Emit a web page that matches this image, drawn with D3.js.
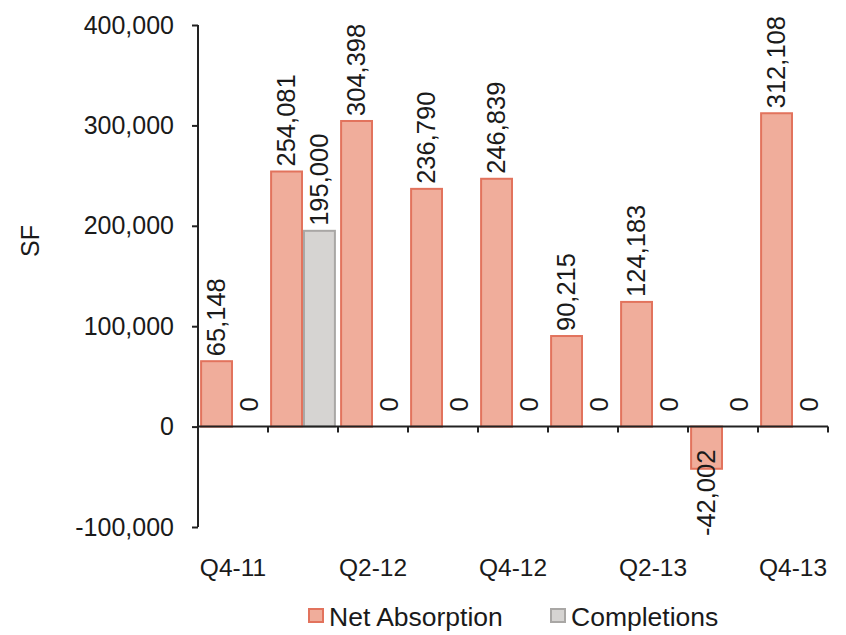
<!DOCTYPE html>
<html><head><meta charset="utf-8">
<script src="https://cdn.jsdelivr.net/npm/d3@7"></script>
<style>body{margin:0;background:#fff}text{font-family:"Liberation Sans",Arial,sans-serif;fill:#1a1a1a}</style>
</head><body><svg id="c" width="846" height="635"></svg>
<script>
const categories = ["Q4-11","Q1-12","Q2-12","Q3-12","Q4-12","Q1-13","Q2-13","Q3-13","Q4-13"];
const netAbsorption = [65148,254081,304398,236790,246839,90215,124183,-42002,312108];
const completions = [0,195000,0,0,0,0,0,0,0];
const yTicks = [-100000,0,100000,200000,300000,400000];
const seriesNames = ["Net Absorption","Completions"];

const svg = d3.select("#c");
const fmt = v => d3.format(",")(v).replace("\u2212","-");
const x0 = d3.scaleBand().domain(categories).range([198,828]).paddingInner(0.06).paddingOuter(0.03);
const x1 = d3.scaleBand().domain(seriesNames).range([0,x0.bandwidth()]);
const y = d3.scaleLinear().domain([-100000,400000]).range([527,25]);

const styles = {
  "Net Absorption": {fill:"#f0ad9b", stroke:"#e2735d"},
  "Completions": {fill:"#d6d4d2", stroke:"#a9a7a5"}
};

const data = categories.map((c,i)=>({c, vals:[{s:"Net Absorption",v:netAbsorption[i]},{s:"Completions",v:completions[i]}]}));

const g = svg.append("g");
const groups = g.selectAll("g.cat").data(data).join("g").attr("transform",d=>`translate(${x0(d.c)},0)`);
groups.selectAll("rect").data(d=>d.vals.filter(e=>e.v!==0)).join("rect")
  .attr("x",e=>x1(e.s)+1).attr("width",x1.bandwidth()-2)
  .attr("y",e=>Math.min(y(e.v),y(0))).attr("height",e=>Math.abs(y(e.v)-y(0)))
  .attr("fill",e=>styles[e.s].fill).attr("stroke",e=>styles[e.s].stroke).attr("stroke-width",2);

groups.selectAll("text.lbl").data(d=>d.vals).join("text").attr("class","lbl")
  .attr("transform",e=>{
    const cx = x1(e.s)+x1.bandwidth()/2;
    let yy;
    if(e.v>0) yy = y(e.v)-5;
    else if(e.v===0) yy = y(0)-15;
    else yy = y(0)+23;
    return `translate(${cx},${yy}) rotate(-90)`;
  })
  .attr("text-anchor",e=>e.v<0?"end":"start")
  .attr("dy","0.35em").style("font-size","25.5px")
  .text(e=>fmt(e.v));

// Y axis
const yAxis = d3.axisLeft(y).tickValues(yTicks).tickFormat(fmt).tickSize(6).tickPadding(18);
const ya = svg.append("g").attr("transform","translate(198,0)").call(yAxis);
ya.select(".domain").attr("stroke","#222").attr("stroke-width",2).attr("d","M0,25V527");
ya.selectAll(".tick line").attr("stroke","#222").attr("stroke-width",2);
ya.selectAll(".tick text").style("font-size","25px").attr("fill","#1a1a1a");

// X axis at zero
const xTickScale = d3.scaleLinear().domain([0,categories.length]).range([198,828]);
const xa = svg.append("g").attr("transform",`translate(0,${y(0)})`);
xa.append("line").attr("x1",198).attr("x2",828).attr("stroke","#222").attr("stroke-width",2);
xa.selectAll("line.t").data(d3.range(categories.length+1)).join("line").attr("class","t")
  .attr("x1",d=>xTickScale(d)).attr("x2",d=>xTickScale(d)).attr("y1",0).attr("y2",6)
  .attr("stroke","#222").attr("stroke-width",2);

svg.append("g").selectAll("text").data(categories.filter((c,i)=>i%2===0)).join("text")
  .attr("x",d=>x0(d)+x0.bandwidth()/2).attr("y",576)
  .attr("text-anchor","middle").style("font-size","24.5px").text(d=>d);

svg.append("text").attr("transform","translate(39,241) rotate(-90)").attr("text-anchor","middle")
  .style("font-size","25px").text("SF");

// Legend
const leg = svg.append("g");
const legPos = [308,550];
seriesNames.forEach((s,i)=>{
  leg.append("rect").attr("x",legPos[i]+1).attr("y",609).attr("width",14).attr("height",13)
    .attr("fill",styles[s].fill).attr("stroke",styles[s].stroke).attr("stroke-width",2);
  leg.append("text").attr("x",legPos[i]+21).attr("y",626).style("font-size","26.5px").text(s);
});
</script></body></html>
